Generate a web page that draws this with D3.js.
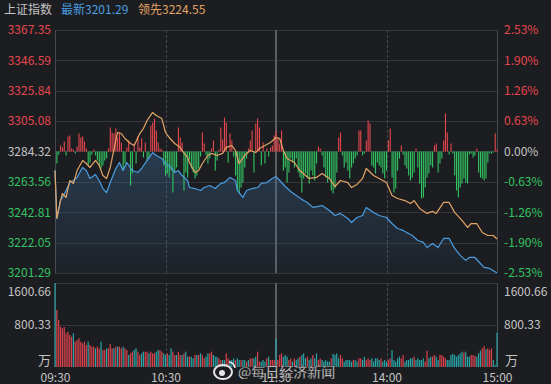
<!DOCTYPE html>
<html><head><meta charset="utf-8">
<script src="https://cdn.jsdelivr.net/npm/d3@7"></script>
<style>
html,body{margin:0;padding:0;background:#1c1d21;}
svg{display:block;}
text{font-family:"Noto Sans CJK SC","Noto Sans",sans-serif;}
</style></head>
<body>
<script>
// ---------- data ----------
const title = "上证指数";
const latestLabel = "最新3201.29";
const leadLabel = "领先3224.55";
const watermark = "@每日经济新闻";
const prevClose = 3284.32;
const priceTicks = [3367.35, 3346.59, 3325.84, 3305.08, 3284.32, 3263.56, 3242.81, 3222.05, 3201.29];
const pctLabels = ["2.53%", "1.90%", "1.26%", "0.63%", "0.00%", "-0.63%", "-1.26%", "-1.90%", "-2.53%"];
const volTicks = [1600.66, 800.33];
const volUnit = "万";
const timeTicks = [0, 60, 120, 180, 240];
const timeLabels = ["09:30", "10:30", "11:30", "14:00", "15:00"];

// index (blue) — minute index and price
const blueT = [0,1,3,4,6,8,10,12,14,15,17,19,22,24,26,28,30,33,35,37,39,42,45,47,50,53,55,58,60,62,65,67,69,72,73,76,79,81,84,87,90,92,95,98,99,102,104,107,110,112,115,118,120,122,125,128,131,135,137,140,143,145,149,152,155,159,161,164,167,169,173,176,180,183,186,189,192,194,197,200,202,205,208,211,214,217,220,223,225,228,231,233,236,240];
const blueV = [3271.3,3238.6,3250.9,3252.9,3257.7,3263.2,3264.5,3266.6,3271.3,3273.4,3271.3,3265.9,3268.6,3264.5,3259.0,3256.3,3263.1,3272.7,3276.8,3271.3,3276.8,3271.3,3270.0,3272.7,3278.2,3283.6,3281.6,3279.5,3276.1,3274.8,3270.0,3271.3,3267.9,3264.5,3259.7,3259.0,3257.7,3259.7,3261.1,3259.0,3262.5,3263.1,3266.6,3264.5,3257.7,3252.9,3257.7,3259.0,3259.7,3262.5,3263.1,3265.9,3267.2,3264.5,3260.4,3257.0,3254.2,3250.9,3249.5,3246.1,3246.8,3247.4,3244.0,3240.6,3242.0,3238.6,3235.8,3239.2,3240.6,3246.1,3242.7,3240.6,3239.2,3235.1,3231.7,3230.4,3228.3,3226.9,3223.5,3222.2,3218.7,3221.5,3218.7,3224.9,3224.9,3218.1,3213.3,3209.9,3211.9,3211.9,3207.8,3205.1,3204.4,3201.29];

// leading index (orange)
const orangeT = [0,1,3,4,6,8,10,12,15,17,19,22,24,26,28,30,33,34,36,38,41,43,46,48,50,53,55,58,60,62,65,68,69,72,73,76,78,80,83,85,88,91,93,96,98,100,103,106,109,111,114,117,120,122,124,126,130,133,136,138,142,145,149,152,155,159,161,164,167,169,173,176,180,183,186,190,193,195,198,202,205,207,211,214,217,221,224,226,229,232,235,238,240];
const orangeV = [3271.3,3238.6,3250.9,3255.6,3252.9,3264.5,3262.5,3271.3,3278.2,3276.1,3273.4,3278.2,3274.8,3267.9,3265.9,3273.4,3291.8,3297.3,3296.6,3293.2,3289.8,3288.4,3296.6,3300.0,3305.5,3311.0,3308.9,3306.9,3297.3,3293.9,3289.8,3287.1,3285.0,3280.2,3276.8,3270.0,3271.3,3276.1,3281.6,3283.0,3281.6,3283.0,3287.1,3288.4,3285.0,3276.1,3281.6,3285.0,3283.6,3286.4,3288.4,3290.5,3293.9,3293.2,3285.0,3279.5,3276.8,3271.3,3267.9,3265.9,3266.6,3269.3,3265.9,3260.4,3264.5,3263.1,3259.7,3261.8,3265.9,3272.7,3267.9,3265.9,3263.1,3254.2,3252.2,3250.8,3248.8,3250.8,3245.4,3242.0,3243.4,3242.0,3249.5,3249.5,3242.7,3237.2,3232.4,3235.1,3235.1,3229.0,3226.9,3226.9,3224.55];

// buy/sell strength bars, one per minute (positive = red, negative = green)
const strength = [
0,-12,-3,6,4,10,-4,15,16,3,
2,-2,5,18,14,15,10,3,-14,-11,
-3,2,-4,-9,-14,-17,-14,-9,-7,3,
24,19,18,23,14,19,9,-19,-12,4,
11,-34,-22,8,-12,15,4,13,-6,9,
-9,-7,26,29,33,21,9,3,2,-14,
-24,-22,-26,-19,-41,-21,-16,24,14,9,
-39,-21,-26,-8,-17,-21,-27,-24,-17,-5,
19,8,-4,-12,-7,3,11,-19,-9,2,
24,12,34,29,-11,18,11,-5,-24,-39,
-42,-36,-31,-16,-7,3,11,21,-21,28,
33,24,-14,9,-12,3,-5,4,6,16,
21,14,8,21,-19,-16,-31,-21,-7,-11,
-16,-7,-21,-26,-41,-27,-22,-26,-32,-19,
-24,-29,-12,5,3,-4,-16,-26,-31,-27,
-39,-42,-37,-21,14,19,-4,-16,-11,-19,
-27,-16,-12,-7,-4,21,21,-4,-2,11,
31,28,-14,-16,-22,-11,-14,-16,-22,-27,
-19,11,23,-26,-41,-37,-19,-7,6,-3,
-14,-17,-24,-29,-26,-21,3,-16,-32,-47,
-46,-36,-26,-22,-14,-16,6,8,-21,-12,
-7,11,38,19,-3,8,-2,-24,-39,-46,
-36,-32,-27,-31,-32,-3,-2,-6,-4,3,
-21,-26,-27,-29,-27,-11,-2,-2,-1,18,
2];
const strengthMax = 121.5;

// volume (万), one per minute
const volume = [
1600,1086,896,768,737,760,642,673,610,578,
641,483,514,546,483,451,483,419,483,419,
387,387,356,387,356,483,324,324,356,356,
437,356,356,387,387,387,356,387,356,324,
229,260,292,324,356,292,229,260,292,292,
292,260,292,260,260,292,324,324,292,260,
229,260,229,356,292,229,229,292,229,229,
260,292,197,197,197,165,229,229,229,260,
229,165,197,260,260,292,229,197,197,165,
133,133,133,260,165,133,133,165,133,165,
133,133,133,133,102,133,165,165,165,197,
292,102,102,133,102,165,197,133,133,133,
547,
133,229,260,197,229,197,133,165,102,
165,133,165,197,229,260,165,197,133,165,
229,165,260,133,165,133,102,133,102,102,
165,250,229,260,165,229,165,102,133,133,
133,102,133,133,102,165,165,133,197,133,
165,133,165,102,165,165,133,165,102,133,
102,133,165,324,133,102,165,197,165,229,
102,133,133,165,165,197,133,165,133,133,
165,102,311,165,197,197,229,197,133,229,
229,197,165,133,133,229,250,229,197,229,
260,292,275,292,197,197,229,229,210,197,
260,311,356,400,337,356,324,356,133,40,
654];
// volume bar direction per minute: r = up (red), c = down (cyan)
const volDir =
"crrrrrrrrr"+"crrrrrrrcr"+"rrcrrcrrcr"+"rrcrcrrcrr"+"crrccrrccr"+"rcrrrccrrc"+
"crccrrcrrc"+"rccrccrcrc"+"rrccrrcccr"+"rccrrcccrc"+"crccrcrrcc"+"rrcccrcrrr"+
"c"+
"rrrcccrrcr"+"ccrcccrccr"+"ccrrcccccr"+"ccccrrcccc"+"crccrrccrr"+"rcccccrccc"+
"rrcccccrrc"+"ccccrccccc"+"rrccrrccrr"+"rrcccccccc"+"crcccrrrcc"+"crrcrrrccc";

// ---------- layout / style ----------
const W = 551, H = 384;
const L = 55, R = 497, T = 30, MB = 273, VT = 283, VB = 367;
const C = {
  bg: "#1c1d21", grid: "#35363b", border: "#47484d", mid: "#5c5d62",
  text: "#c4c4c4", red: "#e5474e", green: "#33c463", blue: "#4a9de0",
  orange: "#e2a466", vRed: "#d9434d", vCyan: "#2aa5a8"
};

const svg = d3.select("body").append("svg").attr("width", W).attr("height", H);
svg.append("rect").attr("width", W).attr("height", H).attr("fill", C.bg);

const x = d3.scaleLinear().domain([0, 240]).range([L, R]);
const y = d3.scaleLinear().domain([priceTicks[8], priceTicks[0]]).range([MB, T]);
const ys = d3.scaleLinear().domain([-strengthMax, strengthMax]).range([MB, T]);
const yv = d3.scaleLinear().domain([0, volTicks[0]]).range([VB, VT]);

// grid lines
const g = svg.append("g");
g.selectAll(".hg").data(priceTicks).join("line")
  .attr("x1", L).attr("x2", R).attr("y1", d => Math.round(y(d)) + 0.5).attr("y2", d => Math.round(y(d)) + 0.5)
  .attr("stroke", C.grid).attr("stroke-width", 1);
g.selectAll(".vg").data(volTicks).join("line")
  .attr("x1", L).attr("x2", R).attr("y1", d => Math.round(yv(d)) + 0.5).attr("y2", d => Math.round(yv(d)) + 0.5)
  .attr("stroke", C.grid).attr("stroke-width", 1);
// vertical lines
[[T, MB], [VT, VB]].forEach(([a, b]) => {
  [0, 240].forEach(t => g.append("line").attr("x1", Math.round(x(t)) + 0.5).attr("x2", Math.round(x(t)) + 0.5)
    .attr("y1", a).attr("y2", b).attr("stroke", C.border));
  [60, 180].forEach(t => g.append("line").attr("x1", Math.round(x(t)) + 0.5).attr("x2", Math.round(x(t)) + 0.5)
    .attr("y1", a).attr("y2", b).attr("stroke", C.border).attr("stroke-dasharray", "3,2"));
  g.append("line").attr("x1", x(120)).attr("x2", x(120)).attr("y1", a).attr("y2", b)
    .attr("stroke", C.mid).attr("stroke-width", 2);
});

// area under index line
const defs = svg.append("defs");
const grad = defs.append("linearGradient").attr("id", "ag").attr("x1", 0).attr("x2", 0).attr("y1", 0).attr("y2", 1);
grad.append("stop").attr("offset", "0%").attr("stop-color", "#3d6f9e").attr("stop-opacity", 0.38);
grad.append("stop").attr("offset", "100%").attr("stop-color", "#3d6f9e").attr("stop-opacity", 0.06);
const blue = blueT.map((t, i) => [t, blueV[i]]);
const orange = orangeT.map((t, i) => [t, orangeV[i]]);
svg.append("path").datum(blue)
  .attr("d", d3.area().x(d => x(d[0])).y0(MB).y1(d => y(d[1])))
  .attr("fill", "url(#ag)");

// strength bars
svg.append("g").selectAll("rect").data(strength).join("rect")
  .attr("x", (d, i) => x(i) - 0.5).attr("width", 1.1)
  .attr("y", d => ys(Math.max(d, 0)))
  .attr("height", d => Math.abs(ys(d) - ys(0)))
  .attr("fill", d => d >= 0 ? C.red : C.green);

// volume bars
svg.append("g").selectAll("rect").data(volume).join("rect")
  .attr("x", (d, i) => x(i) - 0.6).attr("width", 1.2)
  .attr("y", d => yv(d)).attr("height", d => VB - yv(d))
  .attr("fill", (d, i) => volDir.charAt(i) === "r" ? C.vRed : C.vCyan);

// lines
const line = d3.line().x(d => x(d[0])).y(d => y(d[1]));
svg.append("path").datum(blue).attr("d", line).attr("fill", "none")
  .attr("stroke", C.blue).attr("stroke-width", 1.2).attr("stroke-linejoin", "round");
svg.append("path").datum(orange).attr("d", line).attr("fill", "none")
  .attr("stroke", C.orange).attr("stroke-width", 1.2).attr("stroke-linejoin", "round");

// axes
const colorOf = v => v > prevClose + 0.001 ? C.red : (v < prevClose - 0.001 ? C.green : C.text);
const leftAx = svg.append("g").attr("transform", `translate(${L},0)`)
  .call(d3.axisLeft(y).tickValues(priceTicks).tickFormat(d3.format(".2f")).tickSize(0).tickPadding(4));
const rightAx = svg.append("g").attr("transform", `translate(${R},0)`)
  .call(d3.axisRight(y).tickValues(priceTicks).tickFormat((d, i) => pctLabels[i]).tickSize(0).tickPadding(7));
[leftAx, rightAx].forEach(a => {
  a.select(".domain").remove();
  a.selectAll("text").attr("font-size", 12).attr("fill", d => colorOf(d))
    .attr("font-family", '"Noto Sans CJK SC","Noto Sans",sans-serif');
});

const vLeft = svg.append("g").attr("transform", `translate(${L},0)`)
  .call(d3.axisLeft(yv).tickValues(volTicks).tickFormat(d3.format(".2f")).tickSize(0).tickPadding(4));
const vRight = svg.append("g").attr("transform", `translate(${R},0)`)
  .call(d3.axisRight(yv).tickValues(volTicks).tickFormat(d3.format(".2f")).tickSize(0).tickPadding(7));
[vLeft, vRight].forEach(a => {
  a.select(".domain").remove();
  a.selectAll("text").attr("font-size", 12).attr("fill", C.text)
    .attr("font-family", '"Noto Sans CJK SC","Noto Sans",sans-serif')
    .attr("dy", d => d === volTicks[0] ? "1.05em" : "0.32em");
});
svg.append("text").attr("x", L - 4).attr("y", VB - 2).attr("text-anchor", "end")
  .attr("font-size", 13).attr("fill", C.text).text(volUnit);
svg.append("text").attr("x", R + 8).attr("y", VB - 2).attr("text-anchor", "start")
  .attr("font-size", 13).attr("fill", C.text).text(volUnit);

const tAx = svg.append("g").attr("transform", `translate(0,${VB})`)
  .call(d3.axisBottom(x).tickValues(timeTicks).tickFormat((d, i) => timeLabels[i]).tickSize(0).tickPadding(6));
tAx.select(".domain").remove();
tAx.selectAll("text").attr("font-size", 12).attr("fill", C.text)
  .attr("font-family", '"Noto Sans CJK SC","Noto Sans",sans-serif');

// header
const hdr = svg.append("text").attr("x", 4).attr("y", 14).attr("font-size", 12);
hdr.append("tspan").attr("fill", C.text).text(title);
hdr.append("tspan").attr("x", 61).attr("fill", C.blue).text(latestLabel);
hdr.append("tspan").attr("x", 138).attr("fill", C.orange).text(leadLabel);

// watermark
const wm = svg.append("g");
wm.append("ellipse").attr("cx", 223).attr("cy", 372).attr("rx", 9).attr("ry", 7)
  .attr("fill", "none").attr("stroke", "#e6e6e6").attr("stroke-width", 2);
wm.append("circle").attr("cx", 222).attr("cy", 373).attr("r", 3).attr("fill", "#e6e6e6");
wm.append("path").attr("d", "M229,362 a7,7 0 0 1 6,6").attr("fill", "none").attr("stroke", "#e6e6e6").attr("stroke-width", 1.5);
wm.append("text").attr("x", 238).attr("y", 377).attr("font-size", 14).attr("fill", "#ececec")
  .attr("stroke", "#2a2a2a").attr("stroke-width", 0.3).text(watermark);
</script>
</body></html>
